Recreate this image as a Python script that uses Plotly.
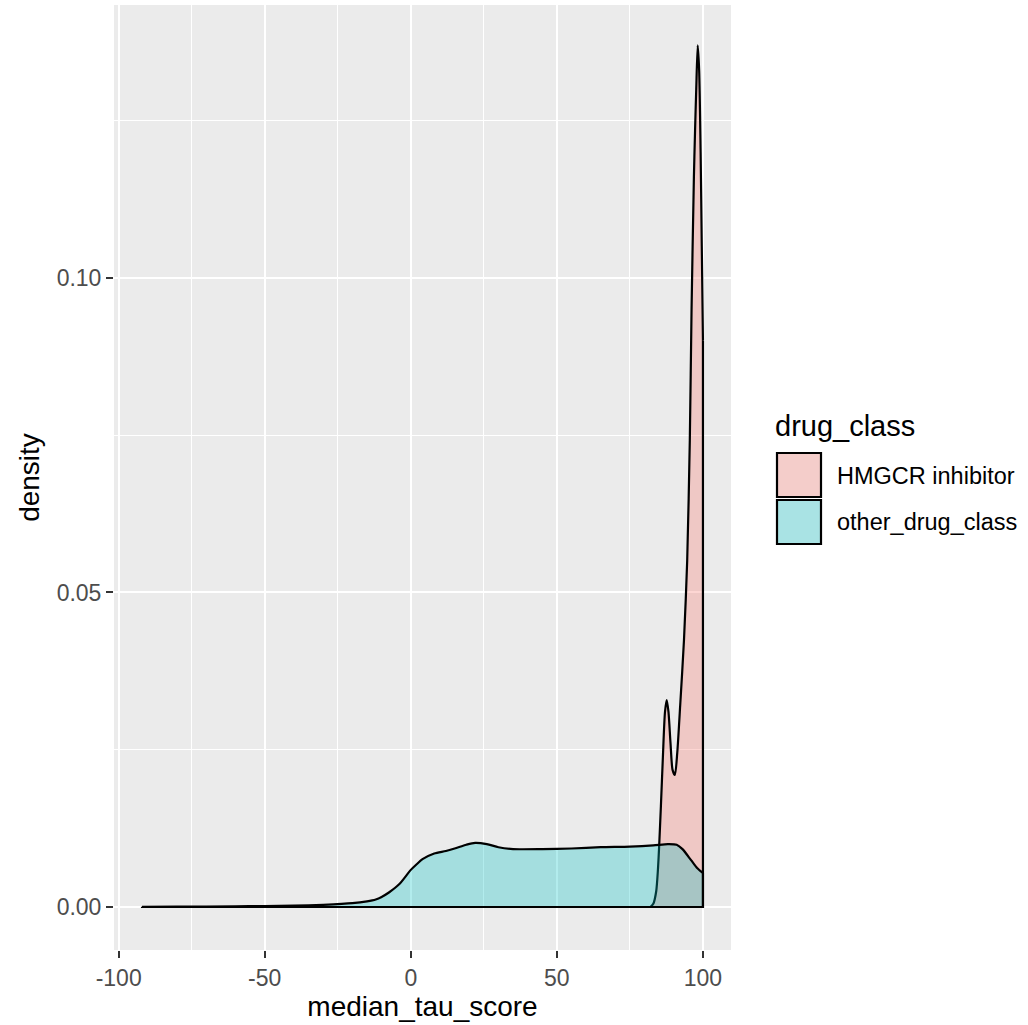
import plotly.graph_objects as go

# ---- data ----
hmgcr_x = [82.0, 83.0, 84.0, 84.6, 85.0, 85.6, 86.3, 87.0, 87.6, 88.2, 88.9, 89.6, 90.4,
           91.2, 92.2, 93.5, 94.6, 95.5, 96.1, 96.9, 97.3, 97.7, 98.2, 98.7, 99.2, 99.6, 100.0]
hmgcr_y = [0.0, 0.0005, 0.0025, 0.006, 0.0096, 0.016, 0.024, 0.031, 0.0329, 0.031, 0.026,
           0.0218, 0.021, 0.0245, 0.032, 0.0424, 0.055, 0.0742, 0.095, 0.116, 0.1235, 0.130,
           0.137, 0.133, 0.120, 0.105, 0.090]

other_x = [-92, -80, -60, -50, -40, -30, -20, -15, -12, -10, -7.5, -4, 0, 2, 4, 8, 12, 15,
           19, 22, 26, 30, 35, 45, 55, 65, 75, 83, 88, 91, 93, 96, 98, 100]
other_y = [0.00003, 0.00005, 0.0001, 0.00015, 0.0002, 0.00035, 0.0006, 0.0009, 0.0012,
           0.0016, 0.0023, 0.0036, 0.0059, 0.0068, 0.0076, 0.0085, 0.0089, 0.0093, 0.0099,
           0.0102, 0.0100, 0.0095, 0.0092, 0.0092, 0.0093, 0.0095, 0.0096, 0.0098, 0.0100,
           0.0099, 0.0092, 0.0074, 0.0062, 0.0054]

groups = ["HMGCR inhibitor", "other_drug_class"]
fills = ["rgba(248,118,109,0.3)", "rgba(0,191,196,0.3)"]

x_ticks = [-100, -50, 0, 50, 100]
y_ticks = [0.00, 0.05, 0.10]

# ---- layout geometry (pixels) ----
W, H = 1028, 1025
L, R, T, B = 114, 297, 5, 75
pw, ph = W - L - R, H - T - B


def px(x):
    return (x - L) / pw


def py(y):
    return (H - B - y) / ph


fig = go.Figure()

for name, xs, ys, fc in [(groups[0], hmgcr_x, hmgcr_y, fills[0]),
                         (groups[1], other_x, other_y, fills[1])]:
    # smooth density curve filled down to zero
    fig.add_trace(go.Scatter(x=xs, y=ys, mode="lines", fill="tozeroy",
                             fillcolor=fc, line=dict(color="black", width=2.2, shape="spline", smoothing=0.7),
                             name=name, showlegend=False, hoverinfo="skip"))
    # closing edges of the density polygon (right side, baseline, left side)
    fig.add_trace(go.Scatter(x=[xs[-1], xs[-1], xs[0], xs[0]], y=[ys[-1], 0.0, 0.0, ys[0]],
                             mode="lines", line=dict(color="black", width=2.2),
                             showlegend=False, hoverinfo="skip"))

font = "Liberation Sans, Arial, sans-serif"

fig.update_layout(
    width=W, height=H,
    margin=dict(l=L, r=R, t=T, b=B, pad=0),
    paper_bgcolor="white", plot_bgcolor="#EBEBEB",
    font=dict(family=font),
    xaxis=dict(range=[-101.6, 109.6], tickvals=x_ticks, ticktext=[str(v) for v in x_ticks],
               showgrid=True, gridcolor="white", gridwidth=2, zeroline=False,
               minor=dict(tickvals=[-75, -25, 25, 75], showgrid=True, gridcolor="white", gridwidth=1, ticks=""),
               ticks="outside", ticklen=7, tickwidth=1.5, tickcolor="#333333",
               tickfont=dict(size=23, color="#4D4D4D", family=font),
               title=dict(text="median_tau_score", font=dict(size=28, color="black", family=font), standoff=4),
               showline=False, fixedrange=True),
    yaxis=dict(range=[-0.00684, 0.1434], tickvals=y_ticks, ticktext=["%.2f" % v for v in y_ticks],
               showgrid=True, gridcolor="white", gridwidth=2, zeroline=False,
               minor=dict(tickvals=[0.025, 0.075, 0.125], showgrid=True, gridcolor="white", gridwidth=1, ticks=""),
               ticks="outside", ticklen=7, tickwidth=1.5, tickcolor="#333333",
               tickfont=dict(size=23, color="#4D4D4D", family=font),
               title=dict(text="density", font=dict(size=28, color="black", family=font), standoff=8),
               showline=False, fixedrange=True),
    showlegend=False,
)

# ---- custom legend (ggplot style keys) ----
fig.add_annotation(xref="paper", yref="paper", x=px(773), y=py(426), text="drug_class",
                   showarrow=False, xanchor="left", yanchor="middle",
                   font=dict(size=29, color="black", family=font))
keys = [(453, 497, 476), (500, 544, 522)]
for (y0, y1, yc), name, fc in zip(keys, groups, fills):
    fig.add_shape(type="rect", xref="paper", yref="paper",
                  x0=px(777), x1=px(821), y0=py(y1), y1=py(y0),
                  fillcolor="#F2F2F2", line=dict(width=0))
    fig.add_shape(type="rect", xref="paper", yref="paper",
                  x0=px(777), x1=px(821), y0=py(y1), y1=py(y0),
                  fillcolor=fc, line=dict(color="black", width=2.2))
    fig.add_annotation(xref="paper", yref="paper", x=px(835), y=py(yc), text=name,
                       showarrow=False, xanchor="left", yanchor="middle",
                       font=dict(size=23.5, color="black", family=font))

fig.write_html("out.html")
